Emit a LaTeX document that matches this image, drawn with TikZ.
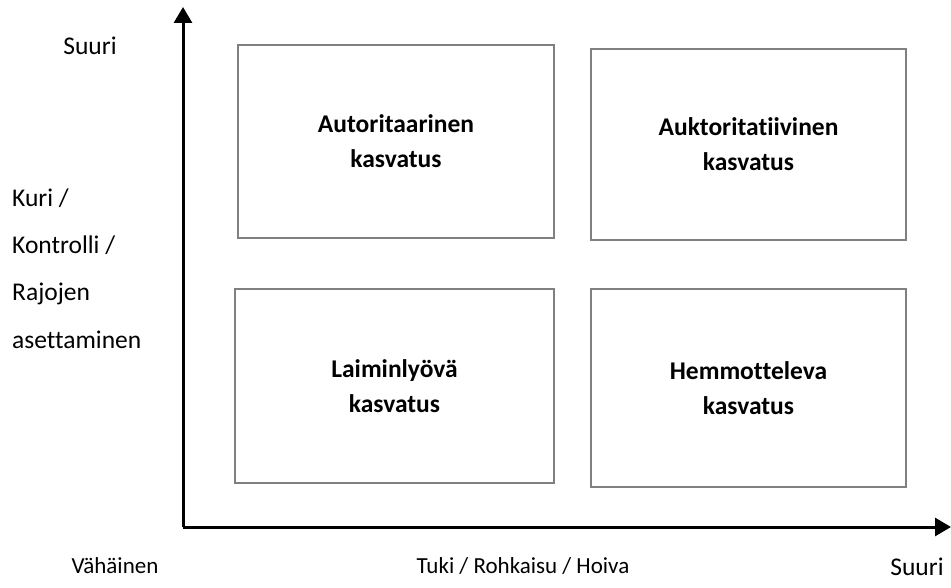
\documentclass[tikz,border=0pt]{standalone}
\usepackage{fontspec}
\setmainfont{Carlito}[Ligatures={NoCommon}]
\usetikzlibrary{arrows.meta}
\definecolor{boxgray}{RGB}{128,128,128}
\tikzset{
  quad/.style={draw=boxgray, line width=2pt, inner sep=0pt, align=center,
    font=\bfseries\fontsize{25.5}{35}\selectfont},
  axis/.style={line width=3pt, -{Triangle[length=16pt,width=18pt]}},
  lbl/.style={inner sep=0pt, font=\fontsize{25.5}{47.3}\selectfont},
  smalllbl/.style={inner sep=0pt, font=\fontsize{23}{28}\selectfont}
}
\begin{document}
\begin{tikzpicture}[x=1pt,y=-1pt]
\useasboundingbox (0,0) rectangle (951,588);
\coordinate (O) at (183,527);
\coordinate (Ytop) at (183,7);
\coordinate (Xend) at (951,527);
\draw[axis] (O) -- (Ytop);
\draw[axis] (O) -- (Xend);
\node[quad, minimum width=316pt, minimum height=193pt] (tl) at (396,141.5) {Autoritaarinen\\kasvatus};
\node[quad, minimum width=315pt, minimum height=191pt] (tr) at (748.5,144.5) {Auktoritatiivinen\\kasvatus};
\node[quad, minimum width=319pt, minimum height=194pt] (bl) at (394.5,386) {Laiminlyövä\\kasvatus};
\node[quad, minimum width=315pt, minimum height=197pt] (br) at (748.5,388) {Hemmotteleva\\kasvatus};
\node[lbl, anchor=base] (ysuuri) at (90,55) {Suuri};
\node[lbl, anchor=base west, align=left] (ylab) at (12,348) {Kuri /\\Kontrolli /\\Rajojen\\asettaminen};
\node[smalllbl, anchor=base] (vah) at (115,573) {Vähäinen};
\node[smalllbl, anchor=base] (xlab) at (523,573) {Tuki / Rohkaisu / Hoiva};
\node[lbl, anchor=base] (xsuuri) at (917,575) {Suuri};
\end{tikzpicture}
\end{document}
